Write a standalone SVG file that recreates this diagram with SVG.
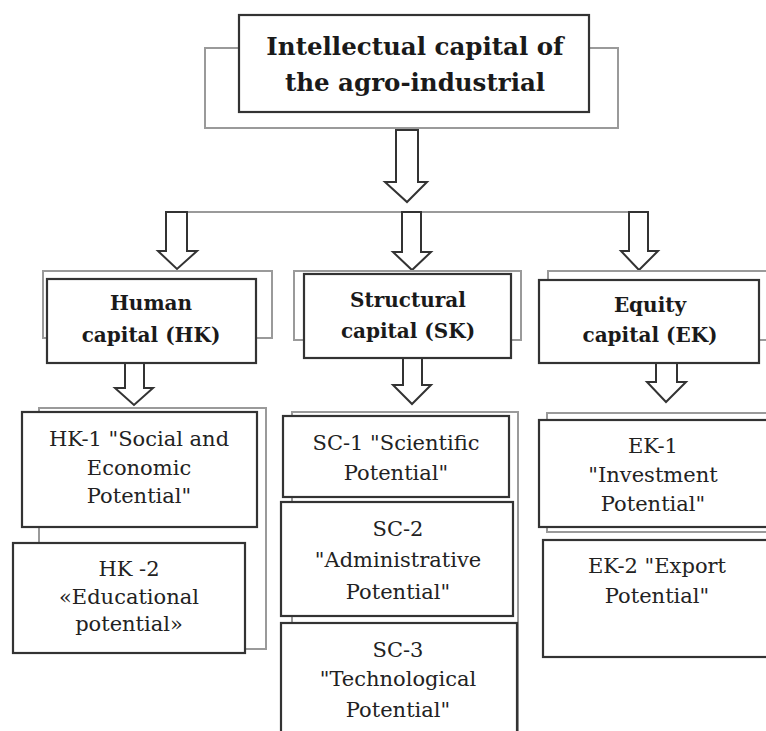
<svg xmlns="http://www.w3.org/2000/svg" width="766" height="731" viewBox="0 0 766 731">
<style>
.bg{fill:none;stroke:#9a9a9a;stroke-width:2}
.box{fill:#fff;stroke:#333;stroke-width:2.2}
.arr{fill:#fff;stroke:#333;stroke-width:2;stroke-linejoin:miter}
.ln{stroke:#9a9a9a;stroke-width:2;fill:none}
text{font-family:"DejaVu Serif","Times New Roman","Liberation Serif",serif;text-anchor:middle}
.tb{font-weight:bold;fill:#1a1a1a}
.tr{font-size:21px;fill:#222}
</style>
<rect width="766" height="731" fill="#fff"/>
<g id="connectors">
<line class="ln" x1="166" y1="212" x2="648" y2="212"/>
<path class="arr" d="M396,130 L418,130 L418,182 L427,182 L407,202 L385,182 L396,182 Z"/>
<path class="arr" d="M166,212 L187,212 L187,251 L197,251 L177,269 L158,251 L166,251 Z"/>
<path class="arr" d="M402,212 L421,212 L421,252 L431,252 L412,270 L393,252 L402,252 Z"/>
<path class="arr" d="M629,212 L648,212 L648,251 L658,251 L639,270 L621,251 L629,251 Z"/>
<path class="arr" d="M125,363 L144,363 L144,388 L153,388 L134,405 L115,388 L125,388 Z"/>
<path class="arr" d="M403,358 L422,358 L422,385 L431,385 L412,404 L393,385 L403,385 Z"/>
<path class="arr" d="M656,363 L677,363 L677,382 L686,382 L666,402 L647,382 L656,382 Z"/>
</g>
<g id="root">
<rect class="bg" x="205" y="48" width="413" height="80"/>
<rect class="box" x="239" y="15" width="350" height="97"/>
<text class="tb" font-size="24.5" x="415" y="55">Intellectual capital of</text>
<text class="tb" font-size="24.5" x="415" y="91">the agro-industrial</text>
</g>
<g id="hk">
<rect class="bg" x="43" y="271" width="229" height="67"/>
<rect class="box" x="47" y="279" width="209" height="84"/>
<text class="tb" font-size="20" x="151" y="310">Human</text>
<text class="tb" font-size="20" x="151" y="342">capital (HK)</text>
</g>
<g id="sk">
<rect class="bg" x="294" y="271" width="227" height="69"/>
<rect class="box" x="304" y="274" width="207" height="84"/>
<text class="tb" font-size="20" x="408" y="307">Structural</text>
<text class="tb" font-size="20" x="408" y="338">capital (SK)</text>
</g>
<g id="ek">
<rect class="bg" x="548" y="271" width="230" height="69"/>
<rect class="box" x="539" y="280" width="220" height="83"/>
<text class="tb" font-size="20" x="650" y="312">Equity</text>
<text class="tb" font-size="20" x="650" y="342">capital (EK)</text>
</g>
<g id="hk-group">
<rect class="bg" x="39" y="408" width="227" height="241"/>
</g>
<g id="hk1">
<rect class="box" x="22" y="412" width="235" height="115"/>
<text class="tr" x="139" y="446">HK-1 "Social and</text>
<text class="tr" x="139" y="475">Economic</text>
<text class="tr" x="139" y="503">Potential"</text>
</g>
<g id="hk2">
<rect class="box" x="13" y="543" width="232" height="110"/>
<text class="tr" x="129" y="576">HK -2</text>
<text class="tr" x="129" y="604">«Educational</text>
<text class="tr" x="129" y="631">potential»</text>
</g>
<g id="sc-group">
<rect class="bg" x="292" y="412" width="226" height="330"/>
</g>
<g id="sc1">
<rect class="box" x="283" y="416" width="226" height="81"/>
<text class="tr" x="396" y="450">SC-1 "Scientific</text>
<text class="tr" x="396" y="480">Potential"</text>
</g>
<g id="sc2">
<rect class="box" x="281" y="502" width="232" height="114"/>
<text class="tr" x="398" y="536">SC-2</text>
<text class="tr" x="398" y="567">"Administrative</text>
<text class="tr" x="398" y="599">Potential"</text>
</g>
<g id="sc3">
<rect class="box" x="281" y="623" width="236" height="120"/>
<text class="tr" x="398" y="657">SC-3</text>
<text class="tr" x="398" y="686">"Technological</text>
<text class="tr" x="398" y="717">Potential"</text>
</g>
<g id="ek-group">
<rect class="bg" x="547" y="413" width="230" height="119"/>
</g>
<g id="ek1">
<rect class="box" x="539" y="420" width="240" height="107"/>
<text class="tr" x="653" y="453">EK-1</text>
<text class="tr" x="653" y="482">"Investment</text>
<text class="tr" x="653" y="511">Potential"</text>
</g>
<g id="ek2">
<rect class="box" x="543" y="540" width="236" height="117"/>
<text class="tr" x="657" y="573">EK-2 "Export</text>
<text class="tr" x="657" y="603">Potential"</text>
</g>
</svg>
